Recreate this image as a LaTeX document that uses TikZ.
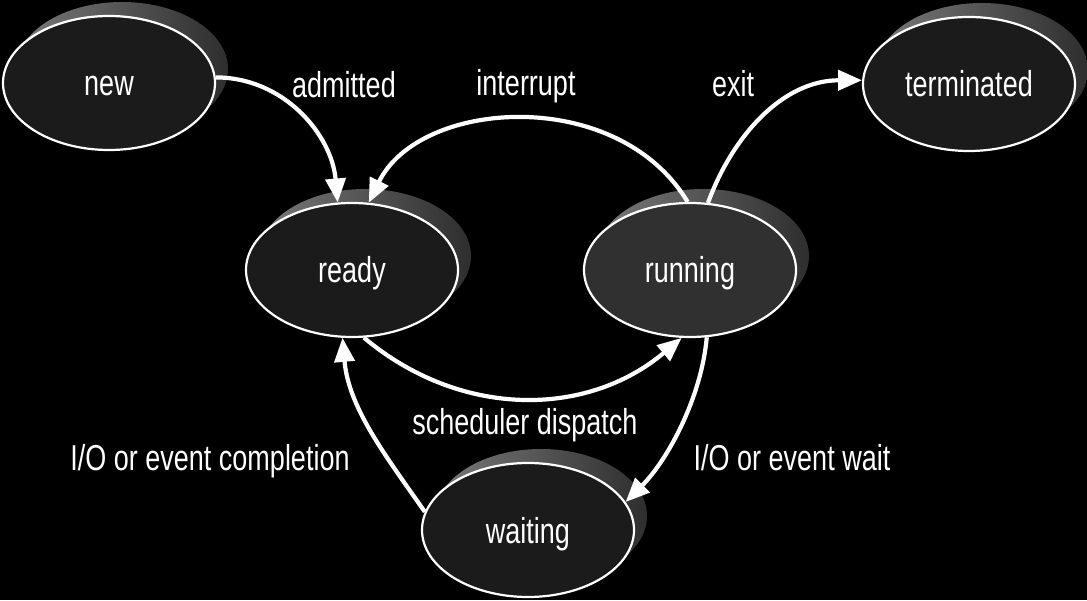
\documentclass[tikz,border=0pt]{standalone}
\usepackage{fontspec}
\setmainfont{Liberation Sans}[FakeStretch=0.75]
\usetikzlibrary{arrows.meta,shapes.geometric}
\definecolor{statefill}{HTML}{1B1B1B}
\definecolor{runfill}{HTML}{303030}
\definecolor{shadowlight}{HTML}{7A7A7A}
\definecolor{shadowdark}{HTML}{2E2E2E}
\begin{document}
\begin{tikzpicture}[x=1pt,y=1pt,
  state/.style={ellipse, draw=white, line width=2.2pt, fill=statefill,
    minimum width=212pt, minimum height=134pt, inner sep=0pt,
    text=white, text height=26pt, text depth=0pt,
    font=\fontsize{36}{40}\selectfont,
    preaction={draw=none, left color=shadowlight, right color=shadowdark,
      transform canvas={shift={(13pt,14pt)}}}},
  lbl/.style={anchor=base, text=white, inner sep=0pt,
    font=\fontsize{36}{40}\selectfont},
  trans/.style={draw=white, line width=4.2pt,
    -{Triangle[length=24pt,width=20pt]}}]
\fill[black] (0,0) rectangle (1087,600);
\useasboundingbox (0,0) rectangle (1087,600);

\node[state] (new) at (109,517) {new};
\node[state] (ready) at (352,330) {ready};
\node[state, fill=runfill] (running) at (690,330) {running};
\node[state] (terminated) at (969,516) {terminated};
\node[state] (waiting) at (528,70) {waiting};

\node[lbl] (ladmit) at (344,502) {admitted};
\node[lbl] (lint) at (526,504) {interrupt};
\node[lbl] (lexit) at (733,503) {exit};
\node[lbl] (lsched) at (525,165) {scheduler dispatch};
\node[lbl] (lcompl) at (210,129) {I/O or event completion};
\node[lbl] (lwait) at (792,129) {I/O or event wait};

\draw[trans] (new.3) to[out=0, in=95] (ready.102);
\draw[trans] (running.92) to[out=121, in=64, out distance=136pt, in distance=116pt] (ready.76);
\draw[trans] (running.75) to[out=70, in=180, out distance=70pt, in distance=80pt] (terminated.178);
\draw[trans] (ready.-80) to[out=-40, in=-140, distance=125pt] (running.-97);
\draw[trans] (waiting.170) to[out=125, in=-85, distance=70pt] (ready.-98);
\draw[trans] (running.-76) to[out=-95, in=45, distance=60pt] (waiting.16);
\end{tikzpicture}
\end{document}
